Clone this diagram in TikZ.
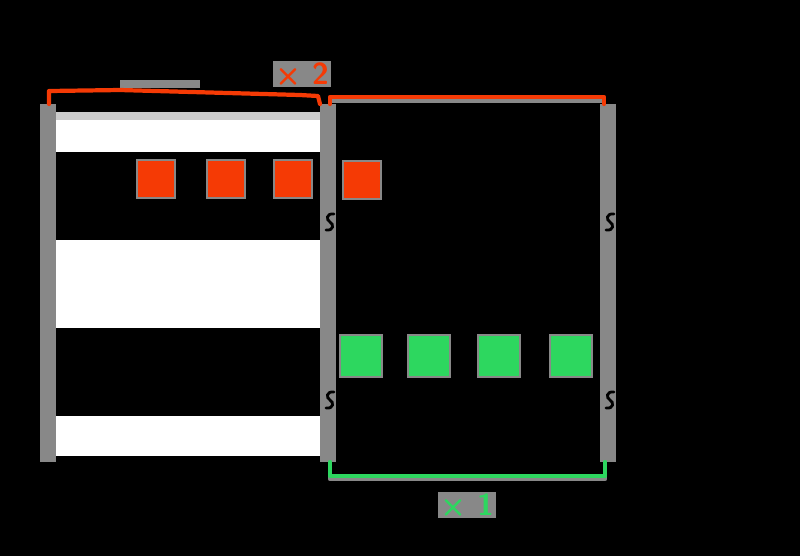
\documentclass[tikz,border=0pt]{standalone}
\usepackage{tikz}
\usetikzlibrary{positioning}
\definecolor{shelfred}{RGB}{245,58,5}
\definecolor{shelfgreen}{RGB}{45,215,95}
\definecolor{postgray}{RGB}{136,136,136}

\begin{document}
\begin{tikzpicture}[x=0.02cm,y=-0.02cm,
  redbox/.style={fill=shelfred,draw=postgray,line width=1.5pt,minimum size=0.76cm,inner sep=0pt},
  greenbox/.style={fill=shelfgreen,draw=postgray,line width=1.5pt,minimum size=0.84cm,inner sep=0pt},
  bracket/.style={line width=2.4pt,line join=round,line cap=round},
  countlabel/.style={fill=postgray,inner sep=1pt,font=\sffamily\bfseries\LARGE}]
\fill[black] (0,0) rectangle (800,556);
\foreach \px in {40,320,600} \fill[postgray] (\px,104) rectangle ++(16,358);
\fill[gray!40] (56,112) rectangle (320,120);
\fill[white] (56,120) rectangle (320,152);
\fill[white] (56,240) rectangle (320,328);
\fill[white] (56,416) rectangle (320,456);
\foreach \px/\py in {326/222,606/222,326/400,606/400}
  \draw[black,line width=1.6pt,line cap=round] (\px+8,\py-8) .. controls (\px,\py-9) and (\px,\py-2) .. (\px+4,\py) .. controls (\px+8,\py+2) and (\px+8,\py+9) .. (\px,\py+8);
\node[redbox] (r1) at (156,179) {};
\node[redbox] (r2) at (226,179) {};
\node[redbox] (r3) at (293,179) {};
\node[redbox] (r4) at (362,180) {};
\node[greenbox] (g1) at (361,356) {};
\node[greenbox] (g2) at (429,356) {};
\node[greenbox] (g3) at (499,356) {};
\node[greenbox] (g4) at (571,356) {};
\fill[postgray] (120,80) rectangle (200,88);
\draw[bracket,postgray] (330,104) -- (330,101) -- (604,101) -- (604,104);
\draw[bracket,postgray] (330,466) -- (330,479) -- (605,479) -- (605,466);
\draw[bracket,shelfred] (49,104) -- (49,91) -- (120,90) -- (300,95) -- (318,96) -- (320,104);
\draw[bracket,shelfred] (330,104) -- (330,97) -- (604,97) -- (604,104);
\draw[bracket,shelfgreen] (330,462) -- (330,476) -- (605,476) -- (605,462);
\node[countlabel,text=shelfred] (two) at (302,74) {× 2};
\node[countlabel,text=shelfgreen] (one) at (467,505) {× 1};
\end{tikzpicture}
\end{document}
